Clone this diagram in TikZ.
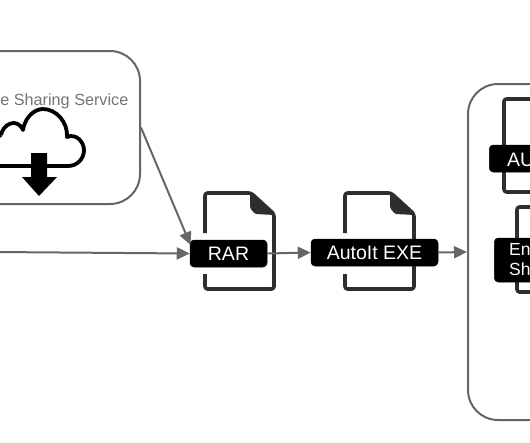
\documentclass[tikz,border=0pt]{standalone}
\usepackage{fontspec}
\setmainfont{Liberation Sans}
\usetikzlibrary{arrows.meta}
\definecolor{edge}{HTML}{666666}
\definecolor{filec}{HTML}{2E2E2E}
\tikzset{
  x=1pt,y=-1pt,
  panel/.style={draw=edge,line width=2pt,rounded corners=30pt,inner sep=0pt},
  tag/.style={fill=black,draw=black,line width=0.5pt,rounded corners=4pt,text=white,font=\fontsize{19.5}{23}\selectfont,inner sep=0pt,align=center},
  filebody/.style={draw=filec,line width=3.6pt,line join=round,line cap=butt,rounded corners=2.5pt},
  conn/.style={draw=edge,line width=2pt,-{Triangle[length=13pt,width=12pt]}},
}
\newcommand{\filesym}[1]{%
  \draw[filebody] (#1+0,233) -- (#1+0,193) -- (#1+46,193) -- (#1+69,214) -- (#1+69,289) -- (#1+0,289) -- (#1+0,274);
  \fill[filec,rounded corners=1.5pt] (#1+45,193) -- (#1+70,215) -- (#1+50,214) -- (#1+45,208) -- cycle;
}
\begin{document}
\begin{tikzpicture}
\clip (0,0) rectangle (530,442);
\fill[white] (0,0) rectangle (530,442);
% left panel
\node[panel,minimum width=240pt,minimum height=153pt] (share) at (20,127.5) {};
\node[anchor=east,text=edge!90,font=\fontsize{16.2}{19}\selectfont,inner sep=0pt] (sharetxt) at (128.5,101.5) {e Sharing Service};
% cloud
\draw[black,line width=3.8pt,line join=round]
  (1,135) .. controls (3,124) and (17,117) .. (23,130)
  .. controls (26,113) and (38,109) .. (43,109)
  .. controls (56,109) and (68,122) .. (67,137)
  .. controls (76,133) and (84,142) .. (84,150)
  .. controls (84,159) and (77,166) .. (68,166)
  -- (-2,166) .. controls (-10,166) and (-10,137) .. (1,135);
\fill[black] (31,153) -- (47,153) -- (47,177) -- (57,177) -- (39,196) -- (22,177) -- (31,177) -- cycle;
% files
\filesym{205}
\filesym{345}
\draw[filebody] (504,145) -- (504,99) -- (532,99);
\draw[filebody] (504,172) -- (504,192) -- (532,192);
\draw[filebody] (517,238) -- (517,207) -- (532,207);
\draw[filebody] (517,282) -- (517,292) -- (532,292);
% tags
\node[tag,minimum width=77pt,minimum height=27pt] (rar) at (228.5,253.5) {RAR};
\node[tag,minimum width=127pt,minimum height=27pt] (exe) at (374.5,252.5) {AutoIt EXE};
\node[panel,minimum width=180pt,minimum height=336pt] (host) at (558,252) {};
\node[tag,anchor=west,minimum width=60pt,minimum height=27pt] (au) at (489,158.5) {};
\node[anchor=west,text=white,font=\fontsize{19.5}{23}\selectfont,inner sep=0pt] (autxt) at (507,159.5) {AU};
\node[tag,anchor=west,minimum width=60pt,minimum height=44pt] (enc) at (494,260) {};
\node[anchor=west,text=white,font=\fontsize{17.5}{20.5}\selectfont,inner sep=0pt,align=left] (enctxt) at (509,259.5) {En\\Sh};
% connectors
\coordinate (src) at (-5,252);
\coordinate (rarin) at (190.5,245);
\draw[conn] (src) -- (rar.west);
\draw[conn] (share.east) -- (rarin);
\draw[conn] (rar.east) -- (exe.west);
\draw[conn] (exe.east) -- (host.west);
\end{tikzpicture}
\end{document}
